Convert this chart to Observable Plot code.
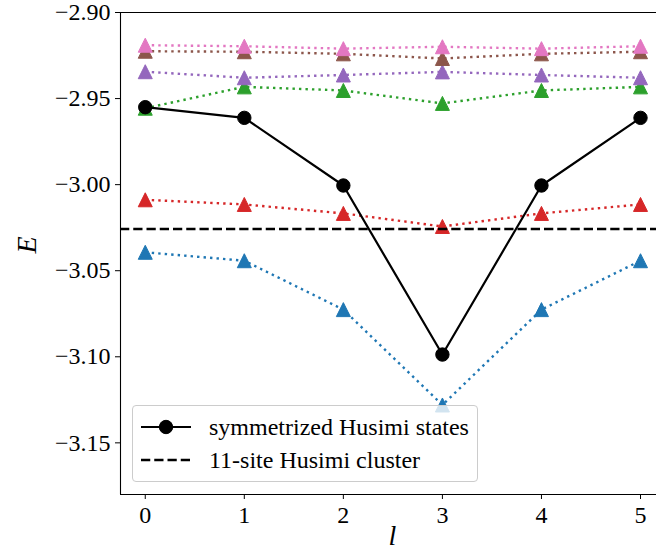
<!DOCTYPE html>
<html>
<head>
<meta charset="utf-8">
<script src="https://cdn.jsdelivr.net/npm/d3@7"></script>
<script src="https://cdn.jsdelivr.net/npm/@observablehq/plot@0.6"></script>
<style>
  body { margin: 0; background: #fff; }
  #chart { position: relative; width: 656px; height: 559px; font-family: 'Liberation Serif'; }
  #chart svg { display: block; }
  #chart svg text { font-family: 'Liberation Serif'; }
  .legend {
    position: absolute; left: 132px; top: 405px; width: 346px; height: 77px;
    box-sizing: border-box; border: 1px solid #cccccc; border-radius: 4px;
    background: rgba(255, 255, 255, 0.8);
  }
  .legend .row { position: absolute; left: 0; height: 30px; width: 100%; }
  .legend .row svg { position: absolute; left: 7px; top: 0; }
  .legend .row span {
    position: absolute; left: 76px; top: 0; line-height: 30px;
    font-family: 'Liberation Serif'; font-size: 24px; color: #000; white-space: nowrap;
  }
</style>
</head>
<body>
<div id="chart"></div>
<script>
// Momentum index l
const ls = [0, 1, 2, 3, 4, 5];

// Energies of the symmetrized Husimi states
const husimiStates = [-2.9550, -2.9612, -3.0005, -3.0987, -3.0005, -2.9612];

// Ground-state energy of the 11-site Husimi cluster
const clusterEnergy = -3.0257;

// Lowest levels of the spectrum at each l
const level0 = [-3.0393, -3.0442, -3.0726, -3.1280, -3.0726, -3.0442];
const level1 = [-3.0088, -3.0115, -3.0167, -3.0243, -3.0167, -3.0115];
const level2 = [-2.9556, -2.9432, -2.9453, -2.9528, -2.9453, -2.9432];
const level3 = [-2.9344, -2.9379, -2.9363, -2.9345, -2.9363, -2.9379];
const level4 = [-2.9225, -2.9228, -2.9240, -2.9267, -2.9240, -2.9228];
const level5 = [-2.9190, -2.9196, -2.9210, -2.9199, -2.9210, -2.9196];
const levels = [level0, level1, level2, level3, level4, level5];
const levelColors = ["#1f77b4", "#d62728", "#2ca02c", "#9467bd", "#8c564b", "#e377c2"];

// Axis ticks and labels
const xTicks = [0, 1, 2, 3, 4, 5];
const yTicks = [-2.90, -2.95, -3.00, -3.05, -3.10, -3.15];
const xLabel = "l";
const yLabel = "E";
const legendLabels = ["symmetrized Husimi states", "11-site Husimi cluster"];

const xDomain = [-0.25, 5.1615];
const yDomain = [-3.18, -2.90];

// Upward triangle centred on its bounding box, as wide as it is tall
const triangleUp = {
  draw(context, size) {
    const r = Math.sqrt(size / Math.PI);
    context.moveTo(0, -r);
    context.lineTo(r, r);
    context.lineTo(-r, r);
    context.closePath();
  }
};

const levelMarks = levels.flatMap((values, k) => {
  const rows = ls.map((l, i) => ({ l, E: values[i] }));
  return [
    Plot.line(rows, { x: "l", y: "E", stroke: levelColors[k], strokeWidth: 2.4, strokeDasharray: "2.4,4.1", strokeLinecap: "butt" }),
    Plot.dot(rows, { x: "l", y: "E", symbol: triangleUp, r: 7, fill: levelColors[k], stroke: levelColors[k], strokeWidth: 1 })
  ];
});

const husimiRows = ls.map((l, i) => ({ l, E: husimiStates[i] }));

const chart = Plot.plot({
  width: 656,
  height: 559,
  marginLeft: 120,
  marginRight: 0,
  marginTop: 12,
  marginBottom: 65,
  style: { fontFamily: "Liberation Serif", fontSize: "24px", color: "black", background: "white" },
  x: { domain: xDomain },
  y: { domain: yDomain },
  marks: [
    ...levelMarks,
    Plot.line(husimiRows, { x: "l", y: "E", stroke: "black", strokeWidth: 2.2 }),
    Plot.dot(husimiRows, { x: "l", y: "E", r: 6.7, fill: "black", stroke: "black", strokeWidth: 1 }),
    Plot.ruleY([clusterEnergy], { stroke: "black", strokeWidth: 2.5, strokeDasharray: "9.25,4" }),
    // spines
    Plot.ruleX([xDomain[0]], { stroke: "black", strokeWidth: 1.1 }),
    Plot.ruleY([yDomain[0]], { stroke: "black", strokeWidth: 1.1 }),
    Plot.ruleY([yDomain[1]], { stroke: "black", strokeWidth: 1.1 }),
    Plot.axisY({ ticks: yTicks, tickFormat: d3.format(".2f"), tickSize: 5, tickPadding: 5, label: null }),
    Plot.axisX({ ticks: xTicks, tickFormat: (d) => String(d), tickSize: 5, tickPadding: 6, label: null }),
    Plot.text([yLabel], { frameAnchor: "left", dx: -93, rotate: -90, fontSize: 28, fontStyle: "italic", text: (d) => d }),
    Plot.text([xLabel], { frameAnchor: "bottom", dx: 4, dy: 50, fontSize: 28, fontStyle: "italic", text: (d) => d })
  ]
});

// Serif face on every text node of the chart
d3.select(chart).attr("font-family", "Liberation Serif")
  .selectAll("text").attr("font-family", "Liberation Serif").style("font-family", "Liberation Serif");

const root = document.getElementById("chart");
root.appendChild(chart);

// Legend box drawn inside the axes
const legend = document.createElement("div");
legend.className = "legend";
const samples = [
  `<svg width="52" height="30"><line x1="1" y1="15" x2="51" y2="15" stroke="black" stroke-width="2.2"/><circle cx="26" cy="15" r="6.7" fill="black" stroke="black" stroke-width="1"/></svg>`,
  `<svg width="52" height="30"><line x1="1" y1="15" x2="51" y2="15" stroke="black" stroke-width="2.5" stroke-dasharray="9.25,4"/></svg>`
];
legendLabels.forEach((label, i) => {
  const row = document.createElement("div");
  row.className = "row";
  row.style.top = (i === 0 ? 6 : 39) + "px";
  row.innerHTML = samples[i] + `<span>${label}</span>`;
  legend.appendChild(row);
});
root.appendChild(legend);
</script>
</body>
</html>
